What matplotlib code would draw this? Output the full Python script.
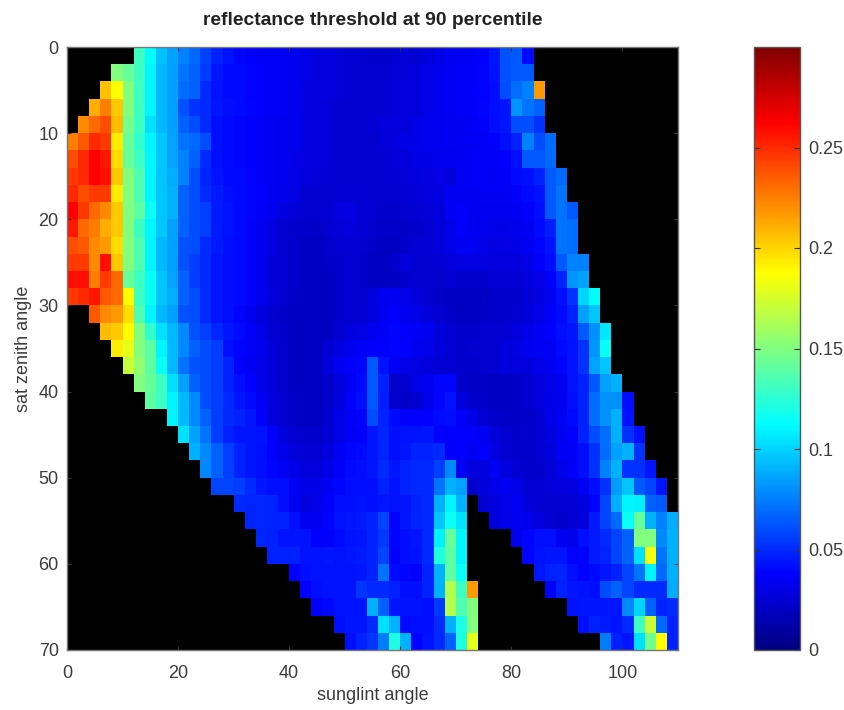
import numpy as np
import matplotlib
matplotlib.use('Agg')
import matplotlib.pyplot as plt
from matplotlib.colors import LinearSegmentedColormap

plt.rcParams['font.family'] = ['Liberation Sans', 'DejaVu Sans']

# threshold in thousandths, 0 = no data; rows are sat zenith bins, columns sunglint bins
thresh = [
[0,0,0,0,0, 0,131,112,94,85, 75,68,57,47,43, 39,37,36,36,34, 33,31,28,27,26, 25,24,23,23,24, 26,25,27,31,33, 34,36,37,44,62, 64,41,0,0,0, 0,0,0,0,0, 0,0,0,0,0],
[0,0,0,0,150, 142,131,110,92,85, 72,66,55,44,41, 40,39,37,36,34, 33,31,28,27,26, 25,24,24,25,26, 26,27,31,33,34, 36,37,39,43,62, 64,64,0,0,0, 0,0,0,0,0, 0,0,0,0,0],
[0,0,0,206,188, 150,131,110,92,85, 70,66,50,43,41, 40,38,37,36,34, 32,29,28,27,26, 25,24,24,25,26, 27,28,31,33,34, 36,37,38,42,60, 70,76,217,0,0, 0,0,0,0,0, 0,0,0,0,0],
[0,0,212,226,203, 150,131,110,92,85, 62,52,50,44,42, 41,39,37,36,34, 32,29,27,26,25, 24,24,24,25,26, 27,28,31,33,34, 36,37,39,42,44, 82,72,66,0,0, 0,0,0,0,0, 0,0,0,0,0],
[0,222,231,240,207, 146,131,104,92,85, 66,60,50,42,41, 39,37,36,34,33, 32,29,27,26,25, 24,24,25,27,27, 28,31,32,33,34, 34,36,37,42,44, 60,60,52,0,0, 0,0,0,0,0, 0,0,0,0,0],
[226,236,250,245,193, 142,127,110,96,85, 72,68,60,42,41, 39,37,36,34,33, 32,29,27,26,25, 24,24,24,26,28, 31,31,32,33,34, 34,34,36,37,42, 47,75,60,68,0, 0,0,0,0,0, 0,0,0,0,0],
[240,250,262,256,198, 142,131,110,96,85, 76,66,50,42,41, 39,37,36,34,33, 31,29,27,26,25, 24,24,24,25,26, 28,31,31,32,33, 34,36,36,36,37, 42,64,64,68,0, 0,0,0,0,0, 0,0,0,0,0],
[245,250,262,258,203, 150,135,110,96,88, 76,60,49,43,41, 40,38,36,34,33, 31,28,26,25,24, 24,24,24,24,25, 26,27,29,31,28, 34,36,36,34,34, 41,42,48,64,68, 0,0,0,0,0, 0,0,0,0,0],
[250,240,245,245,193, 150,135,110,96,90, 66,60,50,45,42, 41,39,37,34,32, 29,25,24,24,25, 25,25,24,24,24, 25,26,27,29,34, 34,34,34,34,34, 37,41,43,64,72, 0,0,0,0,0, 0,0,0,0,0],
[262,245,231,222,203, 150,140,116,96,90, 66,60,56,45,43, 41,39,36,33,29, 26,24,24,25,29, 29,25,24,23,23, 24,25,26,28,34, 37,34,33,33,33, 34,37,42,64,72, 64,0,0,0,0, 0,0,0,0,0],
[256,231,226,212,203, 150,131,110,96,85, 66,60,56,45,43, 41,37,33,29,25, 23,23,22,24,26, 27,25,23,22,22, 22,23,24,27,31, 37,34,32,31,31, 32,34,41,46,72, 70,0,0,0,0, 0,0,0,0,0],
[240,236,222,217,198, 150,135,110,92,85, 62,60,50,45,42, 41,37,33,29,25, 23,21,21,23,25, 25,24,22,21,21, 23,25,25,27,31, 34,34,31,29,29, 31,33,39,43,72, 70,0,0,0,0, 0,0,0,0,0],
[245,245,222,258,203, 150,135,110,92,85, 62,56,50,44,42, 41,37,33,28,25, 23,21,21,22,23, 24,23,21,21,23, 27,25,24,25,27, 29,29,29,27,27, 27,31,37,42,64, 75,75,0,0,0, 0,0,0,0,0],
[258,258,226,245,231, 142,131,116,96,85, 66,56,50,44,42, 41,37,33,28,25, 23,21,21,21,23, 24,23,21,21,21, 23,24,24,23,24, 23,23,23,25,25, 25,27,31,37,47, 82,85,0,0,0, 0,0,0,0,0],
[245,250,256,236,231, 188,131,116,96,88, 66,60,50,44,42, 41,37,32,27,24, 22,21,20,21,23, 24,24,27,33,34, 31,27,24,22,21, 21,21,21,23,23, 23,26,29,34,42, 52,100,112,0,0, 0,0,0,0,0],
[0,0,236,222,217, 198,135,110,92,85, 62,60,50,44,42, 39,33,28,24,22, 21,21,20,21,23, 24,25,28,34,37, 33,31,27,24,22, 21,21,22,23,23, 24,27,31,36,41, 48,85,96,0,0, 0,0,0,0,0],
[0,0,0,207,203, 188,150,127,104,92, 78,62,56,49,44, 41,36,31,25,23, 21,20,20,21,24, 28,29,33,36,39, 37,36,33,27,24, 23,23,24,24,25, 27,31,34,37,42, 44,64,80,106,0, 0,0,0,0,0],
[0,0,0,0,193, 180,150,140,110,92, 78,66,60,56,42, 39,36,32,26,23, 21,20,21,25,29, 33,36,37,37,39, 37,33,31,27,24, 23,24,24,25,27, 29,33,34,34,41, 43,52,82,116,0, 0,0,0,0,0],
[0,0,0,0,0, 170,155,140,116,92, 72,62,60,56,47, 37,34,31,26,23, 21,20,21,27,33, 37,39,64,43,34, 31,29,27,25,24, 23,23,24,25,27, 27,28,31,34,39, 43,52,85,96,0, 0,0,0,0,0],
[0,0,0,0,0, 0,150,142,131,104, 85,66,60,56,47, 42,37,31,26,23, 21,20,20,22,27, 34,41,64,48,23, 24,31,33,39,39, 23,22,22,21,21, 22,24,27,31,34, 43,47,64,85,90, 0,0,0,0,0],
[0,0,0,0,0, 0,0,140,131,110, 92,78,60,56,50, 44,41,34,27,24, 22,21,20,23,27, 37,42,64,46,23, 22,24,31,39,43, 27,23,22,21,21, 22,24,27,31,33, 42,47,70,80,80, 42,0,0,0,0],
[0,0,0,0,0, 0,0,0,0,110, 92,78,66,56,50, 47,44,37,28,24, 22,21,21,24,31, 34,39,60,48,41, 37,37,37,41,42, 37,31,25,23,22, 22,23,25,31,34, 41,47,70,80,90, 43,0,0,0,0],
[0,0,0,0,0, 0,0,0,0,0, 104,85,72,56,47, 44,44,43,37,27, 25,23,23,25,31, 34,37,44,49,42, 43,43,44,37,37, 37,37,34,27,24, 22,23,25,29,33, 37,47,60,70,90, 52,42,0,0,0],
[0,0,0,0,0, 0,0,0,0,0, 0,90,78,66,56, 47,44,42,37,31, 27,25,25,27,34, 39,41,44,49,42, 44,47,47,50,37, 37,34,37,29,25, 23,23,24,27,34, 36,42,52,70,85, 90,52,0,0,0],
[0,0,0,0,0, 0,0,0,0,0, 0,0,78,66,56, 47,44,42,39,34, 31,27,27,31,36, 41,42,44,50,44, 47,50,50,56,78, 34,27,27,34,29, 25,23,23,26,31, 36,42,52,75,90, 52,52,44,0,0],
[0,0,0,0,0, 0,0,0,0,0, 0,0,0,58,58, 56,50,44,42,42, 34,31,31,34,39, 42,42,42,47,43, 47,50,50,72,90, 85,23,27,31,34, 31,25,25,26,27, 29,34,42,52,84, 96,64,58,44,0],
[0,0,0,0,0, 0,0,0,0,0, 0,0,0,0,0, 50,49,49,47,42, 33,27,31,37,42, 42,43,42,44,43, 44,47,50,90,110, 90,0,25,27,31, 34,27,25,24,24, 25,27,39,58,90, 110,108,66,64,0],
[0,0,0,0,0, 0,0,0,0,0, 0,0,0,0,0, 0,49,49,47,47, 42,34,34,39,43, 44,45,47,58,38, 44,49,50,96,116, 104,0,0,27,31, 34,32,27,24,23, 24,27,45,58,68, 116,142,90,75,88],
[0,0,0,0,0, 0,0,0,0,0, 0,0,0,0,0, 0,0,49,47,43, 43,43,37,37,41, 43,44,47,55,39, 42,44,50,108,142, 110,0,0,0,0, 32,39,42,42,34, 31,42,45,50,58, 66,150,150,78,90],
[0,0,0,0,0, 0,0,0,0,0, 0,0,0,0,0, 0,0,0,47,47, 47,43,43,44,43, 44,45,47,58,37, 42,43,50,121,140, 110,0,0,0,0, 0,39,43,44,44, 37,39,45,49,58, 66,104,185,72,90],
[0,0,0,0,0, 0,0,0,0,0, 0,0,0,0,0, 0,0,0,0,0, 37,42,43,43,43, 43,44,47,72,41, 39,37,47,90,140, 116,0,0,0,0, 0,0,44,47,49, 42,37,41,44,47, 58,72,110,69,90],
[0,0,0,0,0, 0,0,0,0,0, 0,0,0,0,0, 0,0,0,0,0, 0,37,42,43,43, 43,53,50,50,47, 42,42,47,90,165, 131,217,0,0,0, 0,0,0,37,47, 44,43,42,60,66, 58,50,50,50,88],
[0,0,0,0,0, 0,0,0,0,0, 0,0,0,0,0, 0,0,0,0,0, 0,0,37,41,43, 43,43,90,66,44, 43,43,42,55,165, 135,150,0,0,0, 0,0,0,0,0, 43,44,44,44,44, 78,100,66,49,50],
[0,0,0,0,0, 0,0,0,0,0, 0,0,0,0,0, 0,0,0,0,0, 0,0,0,0,42, 44,44,50,104,90, 41,42,42,50,90, 120,150,0,0,0, 0,0,0,0,0, 0,42,47,45,44, 50,131,172,69,47],
[0,0,0,0,0, 0,0,0,0,0, 0,0,0,0,0, 0,0,0,0,0, 0,0,0,0,0, 42,47,53,74,121, 90,39,43,50,66, 121,180,0,0,0, 0,0,0,0,0, 0,0,0,74,47, 44,104,146,188,47],
]
sunglint_edges = np.arange(0, 112, 2)
zenith_edges = np.arange(0, 72, 2)
x_ticks = [0, 20, 40, 60, 80, 100]
y_ticks = [0, 10, 20, 30, 40, 50, 60, 70]
cb_ticks = [0, 0.05, 0.1, 0.15, 0.2, 0.25]
cb_labels = ['0', '0.05', '0.1', '0.15', '0.2', '0.25']

data = np.array(thresh, dtype=float) / 1000
data = np.ma.masked_where(data == 0, data)

# octave flavour of jet, blue and red sit further in than matplotlib's
jet = LinearSegmentedColormap.from_list('octave_jet', [
    (0, (0, 0, 0.5)), (1 / 8, (0, 0, 1)), (3 / 8, (0, 1, 1)),
    (5 / 8, (1, 1, 0)), (7 / 8, (1, 0, 0)), (1, (0.5, 0, 0))], N=256)
jet.set_bad('black')

W, H = 845, 710
txt = '#3c3c3c'
fig = plt.figure(figsize=(W / 100, H / 100), dpi=100)
ax = fig.add_axes([67 / W, 1 - 650 / H, 611 / W, 603 / H])
cax = fig.add_axes([754 / W, 1 - 650 / H, 46 / W, 603 / H])

mesh = ax.pcolormesh(sunglint_edges, zenith_edges, data, cmap=jet, vmin=0, vmax=0.3)
ax.set_xlim(0, 110)
ax.set_ylim(70, 0)
ax.set_facecolor('black')
ax.set_xticks(x_ticks)
ax.set_yticks(y_ticks)
ax.tick_params(direction='in', top=True, right=True, length=3, width=0.8,
               color='#333333', labelcolor=txt, labelsize=13)
ax.tick_params(axis='x', pad=10.5)
ax.tick_params(axis='y', pad=6)
ax.set_xlabel('sunglint angle', fontsize=13, color=txt)
ax.xaxis.set_label_coords(0.5, -0.061)
ax.set_ylabel('sat zenith angle', fontsize=13, color=txt)
ax.yaxis.set_label_coords(-0.058, 0.5)
ax.set_title('reflectance threshold at 90 percentile', fontsize=13.9,
             fontweight='bold', color='#222222', pad=15.5)

cb = fig.colorbar(mesh, cax=cax, ticks=cb_ticks)
cb.ax.set_yticklabels(cb_labels)
cax.tick_params(direction='in', left=True, right=True, length=4, width=0.8,
                color='#333333', labelcolor=txt, labelsize=13, pad=6)

for a in (ax, cax):
    for s in a.spines.values():
        s.set_color('#777777')
        s.set_linewidth(1)
cb.outline.set_edgecolor('#555555')

fig.savefig('out.png', dpi=100)
